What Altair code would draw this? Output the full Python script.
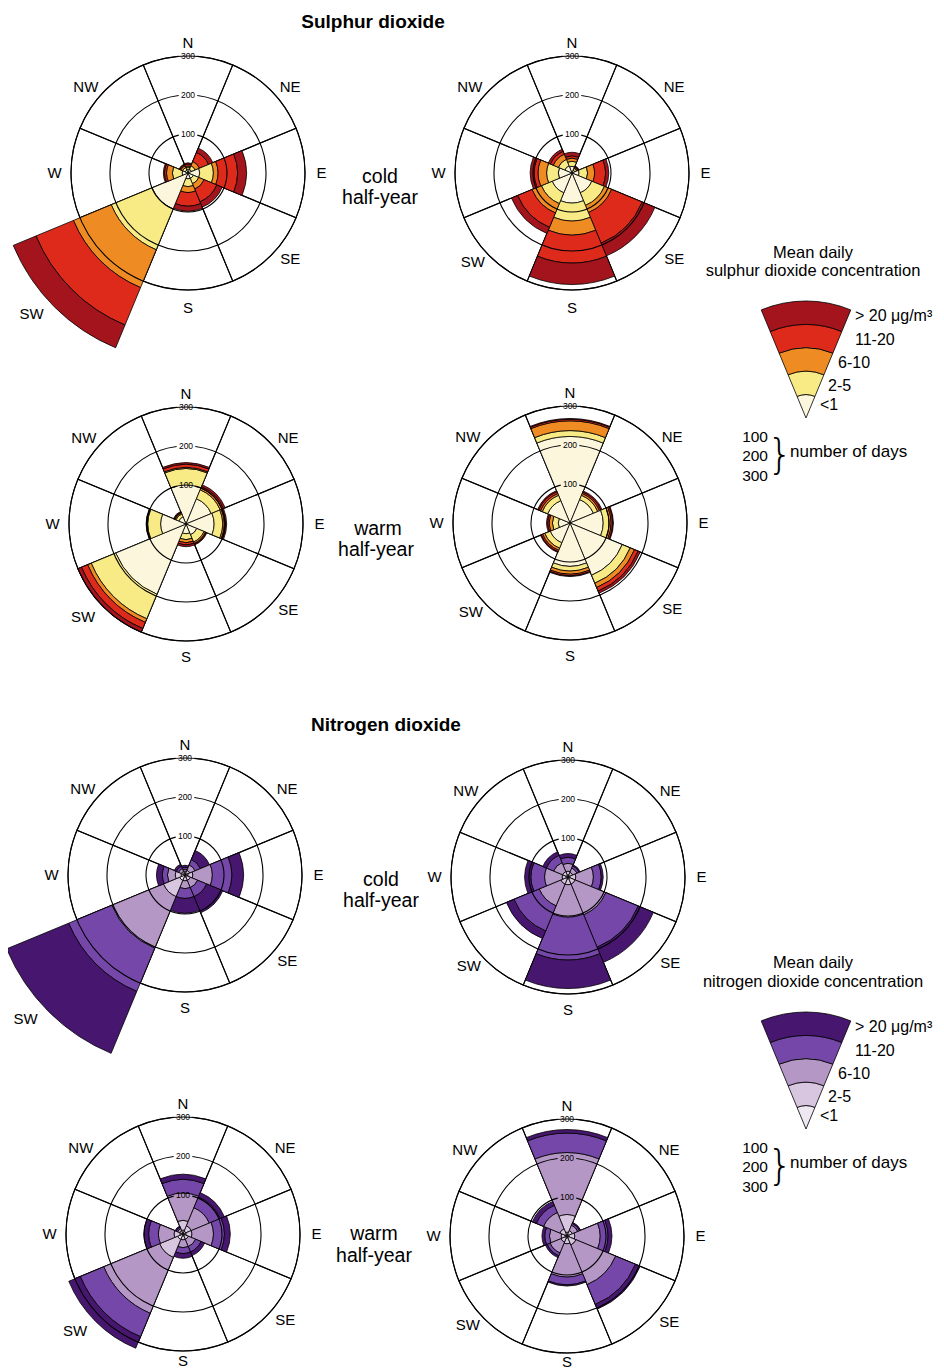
import math
import altair as alt
import pandas as pd

# ---------------- data ----------------
directions = ["N", "NE", "E", "SE", "S", "SW", "W", "NW"]
dir_angles = [0, 45, 90, 135, 180, 225, 270, 315]
label_angles = [0, 50, 90, 130, 180, 228, 270, 310]
classes = ["<1", "2-5", "6-10", "11-20", ">20"]

# number of days per concentration class (<1, 2-5, 6-10, 11-20, >20), directions N..NW
so2_cold_a = [[10, 5, 3, 5, 3], [10, 10, 12, 25, 12], [30, 35, 12, 50, 23], [15, 15, 15, 35, 15],
              [15, 20, 15, 35, 13], [100, 113, 105, 104, 63], [15, 25, 15, 5, 3], [8, 7, 5, 3, 2]]
so2_cold_b = [[17, 13, 8, 6, 9], [8, 5, 3, 2, 2], [18, 22, 18, 28, 8], [55, 35, 20, 85, 35],
              [77, 46, 36, 72, 55], [55, 30, 26, 40, 17], [35, 30, 22, 10, 10], [20, 18, 14, 8, 6]]
so2_warm_a = [[100, 42, 3, 8, 4], [70, 25, 5, 4, 5], [72, 22, 4, 3, 3], [30, 20, 4, 2, 2],
              [25, 15, 8, 5, 5], [195, 68, 10, 17, 10], [65, 33, 2, 1, 1], [20, 8, 3, 2, 2]]
so2_warm_b = [[222, 15, 25, 4, 2], [65, 12, 5, 4, 3], [85, 15, 5, 4, 2], [145, 22, 12, 10, 6],
              [111, 12, 8, 4, 2], [55, 15, 6, 4, 2], [30, 15, 8, 4, 3], [62, 15, 5, 5, 3]]
no2_cold_a = [[5, 5, 5, 5, 5], [5, 8, 15, 15, 25], [8, 12, 50, 50, 30], [5, 10, 20, 25, 45],
              [5, 10, 20, 25, 38], [15, 45, 143, 120, 172], [10, 15, 20, 13, 15], [5, 5, 8, 6, 6]]
no2_cold_b = [[5, 10, 20, 15, 10], [5, 8, 12, 6, 3], [5, 15, 45, 20, 5], [5, 15, 85, 90, 42],
              [5, 15, 83, 110, 73], [5, 15, 60, 70, 21], [5, 10, 45, 35, 16], [5, 10, 25, 20, 10]]
no2_warm_a = [[10, 25, 70, 35, 13], [8, 15, 50, 30, 12], [8, 15, 55, 28, 15], [5, 10, 20, 15, 10],
              [5, 10, 20, 15, 12], [15, 50, 155, 65, 32], [8, 15, 40, 25, 12], [4, 5, 6, 4, 3]]
no2_warm_b = [[10, 45, 159, 50, 9], [5, 10, 15, 5, 3], [5, 15, 65, 20, 10], [5, 20, 110, 55, 13],
              [5, 15, 85, 20, 3], [5, 12, 30, 8, 5], [5, 10, 30, 12, 7], [5, 15, 45, 20, 11]]

legend_days = [60, 60, 60, 60, 60]
ring_values = [100, 200, 300]
ring_labels = ["100", "200", "300"]

so2_colors = ["#FBF6DC", "#F8EB86", "#EE8B22", "#DE2A1B", "#A3141C"]
no2_colors = ["#EFE7F2", "#D8C5DF", "#B597C6", "#7447A8", "#47166F"]

# rose layout: (pollutant, data, centre x, centre y, label radius for S) in page pixels
roses = [
    ("so2", so2_cold_a, 188, 173, 345), ("so2", so2_cold_b, 572, 173, 345),
    ("so2", so2_warm_a, 186, 524, 340), ("so2", so2_warm_b, 570, 523, 340),
    ("no2", no2_cold_a, 185, 875, 340), ("no2", no2_cold_b, 568, 877, 340),
    ("no2", no2_warm_a, 183, 1234, 326), ("no2", no2_warm_b, 567, 1236, 322),
]
legends = [("so2", 806, 418), ("no2", 806, 1129)]

HALF = 22.5
RING_GAP = 24  # label gap half-width in day units along the ring

# ---------------- tables ----------------
sect, grid, rings, rlab, dlab = [], [], [], [], []
for pol, data, cx, cy, s_r in roses:
    for d, ang, lang, vals in zip(directions, dir_angles, label_angles, data):
        base = 0
        for c, v in zip(classes, vals):
            sect.append(dict(cx=cx, cy=cy, t0=ang - HALF, t1=ang + HALF, r0=base, r1=base + v, key=pol + c))
            base += v
        grid.append(dict(cx=cx, cy=cy, t0=ang - HALF, t1=ang + HALF, r0=0, r1=300))
        lr = s_r if d == "S" else (333 if d == "N" else 342)
        dlab.append(dict(cx=cx, cy=cy, t0=lang, r1=max(lr, base + 55), text=d))
    for rv, rl in zip(ring_values, ring_labels):
        gap = math.degrees(RING_GAP / rv)
        rings.append(dict(cx=cx, cy=cy, t0=gap, t1=360 - gap, r0=rv, r1=rv))
        rlab.append(dict(cx=cx, cy=cy, t0=0, r1=rv, text=rl))
for pol, cx, cy in legends:
    base = 0
    for c, v in zip(classes, legend_days):
        sect.append(dict(cx=cx, cy=cy, t0=-HALF, t1=HALF, r0=base, r1=base + v, key=pol + c))
        base += v

sect_df = pd.DataFrame(sect)
grid_df = pd.DataFrame(grid)
ring_df = pd.DataFrame(rings)
rlab_df = pd.DataFrame(rlab)
dlab_df = pd.DataFrame(dlab)

titles_df = pd.DataFrame([
    dict(cx=373, cy=22, text="Sulphur dioxide"),
    dict(cx=386, cy=725, text="Nitrogen dioxide"),
])
season_df = pd.DataFrame([
    dict(cx=380, cy=177, text="cold"), dict(cx=380, cy=198, text="half-year"),
    dict(cx=378, cy=529, text="warm"), dict(cx=376, cy=550, text="half-year"),
    dict(cx=381, cy=880, text="cold"), dict(cx=381, cy=901, text="half-year"),
    dict(cx=374, cy=1234, text="warm"), dict(cx=374, cy=1256, text="half-year"),
])
leg_title_df = pd.DataFrame([
    dict(cx=813, cy=253, text="Mean daily"),
    dict(cx=813, cy=271, text="sulphur dioxide concentration"),
    dict(cx=813, cy=963, text="Mean daily"),
    dict(cx=813, cy=982, text="nitrogen dioxide concentration"),
])
leg_label_text = ["> 20 \u03bcg/m\u00b3", "11-20", "6-10", "2-5", "<1"]
leg_label_x = [855, 855, 838, 828, 820]
leg_label_y = [316, 340, 363, 386, 405]
num_y = [437, 456, 476]
leg_rows, num_rows = [], []
for off in [0, 711]:
    for t, x, y in zip(leg_label_text, leg_label_x, leg_label_y):
        leg_rows.append(dict(cx=x, cy=y + off, text=t))
    for t, y in zip(ring_labels, num_y):
        num_rows.append(dict(cx=768, cy=y + off, text=t))
leg_label_df = pd.DataFrame(leg_rows)
num_df = pd.DataFrame(num_rows)
days_df = pd.DataFrame([dict(cx=790, cy=452, text="number of days"),
                        dict(cx=790, cy=1163, text="number of days")])
brace_df = pd.DataFrame([dict(cx=780, cy=456, text="}"), dict(cx=780, cy=1167, text="}")])

# ---------------- encodings ----------------
X = alt.X("cx:Q", scale=alt.Scale(domain=[8, 936], range=[0, 928], zero=False, nice=False), axis=None)
Y = alt.Y("cy:Q", scale=alt.Scale(domain=[8, 1371], range=[0, 1363], zero=False, nice=False), axis=None)
TH = alt.Theta("t0:Q", scale=alt.Scale(domain=[0, 360], range=[0, 2 * math.pi]), stack=False)
TH2 = alt.Theta2("t1:Q")
R = alt.Radius("r1:Q", scale=alt.Scale(type="linear", domain=[0, 300], range=[0, 117], zero=True), stack=False)
R2 = alt.Radius2("r0:Q")
keys = ["so2" + c for c in classes] + ["no2" + c for c in classes]
COL = alt.Color("key:N", scale=alt.Scale(domain=keys, range=so2_colors + no2_colors), legend=None)

FONT = "Liberation Sans"

grid_layer = alt.Chart(grid_df).mark_arc(filled=False, stroke="black", strokeWidth=1.1).encode(
    x=X, y=Y, theta=TH, theta2=TH2, radius=R, radius2=R2)
sect_layer = alt.Chart(sect_df).mark_arc(stroke="black", strokeWidth=0.8).encode(
    x=X, y=Y, theta=TH, theta2=TH2, radius=R, radius2=R2, color=COL)
ring_layer = alt.Chart(ring_df).mark_arc(filled=False, stroke="black", strokeWidth=1.1).encode(
    x=X, y=Y, theta=TH, theta2=TH2, radius=R, radius2=R2)
rlab_layer = alt.Chart(rlab_df).mark_text(font=FONT, fontSize=8.5, baseline="middle", align="center").encode(
    x=X, y=Y, theta=TH, radius=R, text="text:N")
dlab_layer = alt.Chart(dlab_df).mark_text(font=FONT, fontSize=15, baseline="middle", align="center").encode(
    x=X, y=Y, theta=TH, radius=R, text="text:N")
title_layer = alt.Chart(titles_df).mark_text(font=FONT, fontSize=19, fontWeight="bold", baseline="middle").encode(
    x=X, y=Y, text="text:N")
season_layer = alt.Chart(season_df).mark_text(font=FONT, fontSize=19.5, baseline="middle").encode(
    x=X, y=Y, text="text:N")
leg_title_layer = alt.Chart(leg_title_df).mark_text(font=FONT, fontSize=16.5, baseline="middle").encode(
    x=X, y=Y, text="text:N")
leg_label_layer = alt.Chart(leg_label_df).mark_text(font=FONT, fontSize=16, baseline="middle", align="left").encode(
    x=X, y=Y, text="text:N")
num_layer = alt.Chart(num_df).mark_text(font=FONT, fontSize=15.5, baseline="middle", align="right").encode(
    x=X, y=Y, text="text:N")
days_layer = alt.Chart(days_df).mark_text(font=FONT, fontSize=17, baseline="middle", align="left").encode(
    x=X, y=Y, text="text:N")
brace_layer = alt.Chart(brace_df).mark_text(font="DejaVu Sans", fontWeight=200, fontSize=40,
                                            baseline="middle", align="center").encode(x=X, y=Y, text="text:N")

chart = alt.layer(
    grid_layer, sect_layer, ring_layer, rlab_layer, dlab_layer,
    title_layer, season_layer, leg_title_layer, leg_label_layer, num_layer, days_layer, brace_layer,
).properties(
    width=928, height=1363, padding=0, autosize=alt.AutoSizeParams(type="none")
).configure_view(stroke=None)

chart.save("out.html", embed_options={"renderer": "svg", "actions": False})
